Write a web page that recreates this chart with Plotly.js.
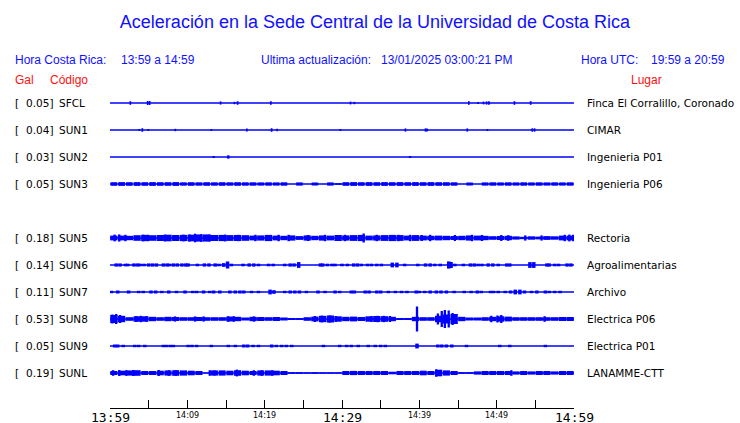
<!DOCTYPE html>
<html>
<head>
<meta charset="utf-8">
<script src="https://cdn.plot.ly/plotly-3.0.1.min.js"></script>
<style>html,body{margin:0;padding:0;background:#fff;}#chart{width:740px;height:423px;}</style>
</head>
<body>
<div id="chart"></div>
<script>
// ---------- DATA ----------
const stations = ['SFCL','SUN1','SUN2','SUN3','SUN5','SUN6','SUN7','SUN8','SUN9','SUNL'];
const pgaGal   = ['0.05','0.04','0.03','0.05','0.18','0.14','0.11','0.53','0.05','0.19'];
const places   = ['Finca El Corralillo, Coronado','CIMAR','Ingenieria P01','Ingenieria P06',
                  'Rectoria','Agroalimentarias','Archivo','Electrica P06','Electrica P01','LANAMME-CTT'];
const rowIndex = [0,1,2,3,5,6,7,8,9,10];
const tickMinutes = [0,5,10,15,20,25,30,35,40,45,50,55,60];
const tickLabels  = ['13:59','','14:09','','14:19','','14:29','','14:39','','14:49','','14:59'];
const bigTicks    = ['13:59','14:29','14:59'];

// continuous band half-amplitude per minute (relative units), minutes 0..59
const coreSUN3 = [1.8,1.9,1.8,1.9,1.8,1.9,1.8,1.8,1.9,
                  1.7,1.8,1.7,1.8,1.7,1.8,1.7,1.8,1.7,
                  1.7,1.6,1.7,1.6,1.7,
                  0,1.6,0,1.5,0,1.6,0.8,
                  1.8,1.9,1.8,1.9,1.8,1.9,1.8,1.9,1.8,1.9,1.8,1.9,1.8,1.8,1.7,
                  0,1.5,0,
                  1.6,1.7,1.6,1.7,1.6,1.7,1.6,1.7,1.6,1.7,1.6,1.7];
const coreSUN5 = [2.4,2.4,2.2,2.8,3.1,2.8,3.0,3.3,3.0,3.1,3.3,3.6,3.6,3.0,3.1,2.9,3.0,2.8,2.4,2.6,
                  3.1,2.4,2.2,2.6,1.9,2.6,2.2,2.6,2.4,3.0,2.6,2.9,3.1,2.4,2.6,2.9,3.1,2.9,2.4,2.9,
                  2.4,2.2,2.4,2.2,2.0,2.2,2.6,2.4,2.2,1.8,2.0,2.2,1.6,1.2,1.7,1.4,1.9,1.7,2.4,2.4];
const coreSUN8 = [4.0,3.2,1.8,2.7,2.7,2.2,1.8,2.2,2.0,1.8,1.8,2.0,1.8,1.8,1.8,2.4,2.2,1.5,2.2,2.0,
                  1.8,2.0,1.5,1.0,0.9,1.8,2.4,3.2,3.5,2.7,2.2,2.4,2.0,2.7,3.0,2.8,2.2,1.0,1.0,2.2,
                  1.8,1.8,3.2,4.5,5.0,2.2,1.5,1.5,1.8,2.2,2.7,2.4,1.8,1.8,1.8,1.8,1.8,1.8,2.0,2.0];
const coreSUNL = [2.0,2.3,2.6,2.8,2.0,2.0,2.3,2.6,2.8,2.6,2.3,2.0,0.4,2.6,2.6,2.3,2.8,2.3,2.0,2.6,
                  2.6,2.3,2.0,0.8,0.8,0.6,0.8,0.6,0.6,0.6,2.0,2.1,2.0,2.0,2.0,2.0,1.3,2.0,2.0,2.0,
                  2.3,2.0,3.2,2.6,2.0,0.8,0.8,1.6,2.0,2.0,2.0,2.0,1.6,2.0,1.6,2.0,2.0,1.6,2.0,2.0];

// isolated bursts: time (minutes after 13:59) and half amplitude (relative units)
const burstSFCL_t = [2.63,4.87,5.13,14.3,16.1,16.5,20.8,31.1,31.6,46.4,47.6,48.3,48.7,49.0,52.3,54.4];
const burstSFCL_a = [1.8,2.0,2.0,1.6,1.2,1.8,1.8,1.4,1.2,1.8,1.0,1.4,1.6,1.8,1.8,1.8];
const burstSUN1_t = [3.79,4.18,4.96,8.45,13.1,17.7,20.9,21.6,29.8,38.2,40.8,41.0,46.2,48.8,54.6,54.9];
const burstSUN1_a = [1.0,1.8,1.0,1.2,1.0,1.6,1.8,1.2,1.0,1.6,1.6,1.6,1.6,1.0,1.7,1.7];
const burstSUN2_t = [13.4,15.3,38.8];
const burstSUN2_a = [1.0,1.7,1.0];
const burstSUN3_t = [];
const burstSUN3_a = [];
const burstSUN5_t = [0.6,1.2,2.0,4.3,4.9,7.1,9.5,10.3,11.0,11.8,12.9,14.9,16.6,18.8,21.8,23.1,25.6,27.8,30.4,32.8,
                     34.5,37.3,38.8,40.3,41.4,44.6,46.8,48.1,50.6,51.5,53.7,55.8,58.8,59.4,59.9];
const burstSUN5_a = [3.4,3.6,3.2,3.4,3.2,3.4,3.4,3.6,4.3,3.8,3.4,3.4,3.2,3.2,3.2,3.2,3.0,3.2,3.2,4.5,
                     3.2,3.2,3.2,3.0,3.2,3.0,3.2,3.0,3.0,2.8,2.6,2.6,3.2,3.4,3.2];
const burstSUN6_t = [0.8,1.3,2.0,2.3,3.1,3.6,3.9,4.4,5.0,5.5,6.0,6.9,7.4,7.7,8.2,8.7,9.3,9.8,10.1,11.3,
                     12.2,12.8,13.6,14.1,14.7,15.2,15.7,17.2,18.0,18.6,19.2,20.5,21.1,22.6,23.3,23.8,24.4,
                     27.2,27.5,28.1,28.7,29.1,30.0,30.7,31.5,32.0,32.5,33.3,33.8,34.5,35.1,36.5,37.1,38.1,
                     39.8,40.8,41.4,42.0,42.7,43.8,44.1,44.6,45.7,46.6,47.1,47.6,48.1,48.9,49.5,50.2,51.3,
                     51.7,54.3,54.8,56.5,56.8,57.5,58.0,59.1,59.6];
const burstSUN6_a = [1.6,1.6,1.3,1.3,1.6,1.6,1.3,1.3,1.6,1.6,1.6,1.6,1.6,1.3,1.6,1.6,1.6,1.6,1.6,1.3,
                     1.6,1.6,1.6,1.3,1.9,3.5,1.3,1.3,1.6,1.6,1.3,1.3,1.3,1.3,1.6,1.6,2.9,
                     1.6,1.6,1.3,1.3,1.3,1.3,1.3,1.6,1.6,1.3,1.3,1.3,1.3,1.3,2.4,2.4,1.3,
                     1.3,1.6,1.6,1.3,1.3,3.6,3.0,1.3,1.3,1.6,1.6,1.3,1.3,1.6,1.6,1.3,1.6,
                     1.6,2.9,2.9,1.6,1.6,1.3,1.3,1.6,1.6];
const burstSUN7_t = [0.2,1.0,2.4,3.7,4.3,5.3,5.9,6.7,7.6,8.6,9.7,10.7,11.2,12.1,12.9,13.4,14.2,15.5,16.2,
                     16.8,17.3,18.3,19.2,20.7,21.2,22.6,23.3,23.9,24.5,25.4,26.9,27.8,29.1,29.7,31.2,31.6,
                     33.0,33.5,34.5,35.0,36.0,36.9,37.7,38.4,39.6,40.0,40.7,41.4,42.2,42.8,43.5,44.5,45.8,
                     46.7,47.5,48.0,49.2,49.6,50.2,51.1,51.8,52.4,53.0,53.6,54.5,55.2,56.3,56.8,57.5,58.2];
const burstSUN7_a = [1.2,1.5,1.5,1.2,1.2,1.5,1.5,1.2,1.5,1.2,1.5,1.2,1.2,1.5,1.2,1.5,1.5,1.5,1.5,
                     1.5,1.5,1.2,1.2,2.4,1.8,1.2,1.5,1.5,1.5,1.2,1.5,1.2,1.5,1.2,1.5,1.5,
                     1.5,1.5,1.5,1.5,1.2,1.2,1.2,1.2,1.5,1.2,1.2,1.5,1.5,1.5,1.5,1.2,1.2,
                     1.2,1.5,1.2,1.2,1.2,1.2,1.2,1.5,2.4,2.4,1.5,1.2,1.5,1.5,1.2,1.2,1.2];
const burstSUN8_t = [0.3,0.8,1.3,3.4,4.0,4.7,8.4,11.0,12.1,15.3,16.0,18.6,26.5,27.4,28.4,29.2,33.8,34.6,35.4,36.2,
                     39.7,42.4,42.9,43.3,43.8,44.3,49.3,50.1,50.6,56.2];
const burstSUN8_a = [4.5,5.0,4.0,3.0,3.2,2.8,2.6,2.6,2.6,2.8,2.8,2.6,3.0,3.4,3.6,3.0,3.0,3.2,3.2,3.0,
                     12.5,5.5,8.0,9.0,8.5,6.0,3.2,3.5,4.0,2.8];
const burstSUN9_t = [0.6,1.0,1.7,3.2,3.7,4.5,6.9,7.3,7.8,8.2,10.1,10.6,11.2,13.1,15.3,16.2,17.3,17.8,18.5,19.2,
                     20.9,21.5,22.2,22.8,23.5,27.6,29.7,30.6,31.2,32.1,33.4,34.3,35.0,35.6,39.7,42.4,42.9,
                     43.5,44.2,46.1,50.4,51.7,56.3];
const burstSUN9_a = [1.5,1.5,1.2,1.2,1.2,1.2,1.2,1.2,1.2,1.2,1.2,1.2,1.2,1.2,1.2,1.2,1.5,1.5,1.2,1.2,
                     1.5,1.2,1.2,1.2,1.2,1.2,1.2,1.2,1.2,1.2,1.2,1.2,1.2,1.2,2.4,1.5,1.5,
                     1.5,1.5,1.2,1.2,1.2,1.2];
const burstSUNL_t = [0.4,1.2,2.1,3.0,6.3,7.6,8.5,12.9,13.5,16.4,18.6,19.6,21.0,42.2,42.7,51.9];
const burstSUNL_a = [2.8,3.0,2.8,3.0,3.0,2.8,2.8,2.8,2.6,3.4,2.8,2.8,2.8,3.8,3.2,2.8];

// ---------- BUILD ----------
const cores  = [null,null,null,coreSUN3,coreSUN5,null,null,coreSUN8,null,coreSUNL];
const coreWidth = [1,1,1,0.85,0.95,1,1,0.95,1,0.92];
const bursts = [[burstSFCL_t,burstSFCL_a],[burstSUN1_t,burstSUN1_a],[burstSUN2_t,burstSUN2_a],[burstSUN3_t,burstSUN3_a],
                [burstSUN5_t,burstSUN5_a],[burstSUN6_t,burstSUN6_a],[burstSUN7_t,burstSUN7_a],[burstSUN8_t,burstSUN8_a],
                [burstSUN9_t,burstSUN9_a],[burstSUNL_t,burstSUNL_a]];
const burstWidth = [0.22,0.22,0.3,0.3,0.3,0.45,0.45,0.3,0.45,0.3];
const ampScale = 1/27;       // relative amplitude -> row units
const BLUE = '#0000ff';
const traces = [];

// baselines
const bx = [], by = [];
rowIndex.forEach(r => { bx.push(0, 60, null); by.push(r, r, null); });
traces.push({type:'scatter', mode:'lines', x:bx, y:by, line:{color:BLUE, width:1.6}, hoverinfo:'skip'});

stations.forEach((s, i) => {
  const r = rowIndex[i];
  const c = cores[i];
  if (c) {
    traces.push({type:'bar', x:c.map((_, m) => m + 0.5), y:c.map(a => 2*a*ampScale),
      base:c.map(a => r - a*ampScale), width:coreWidth[i], marker:{color:BLUE, line:{width:0}}, hoverinfo:'skip'});
  }
  const [bt, ba] = bursts[i];
  if (bt.length) {
    traces.push({type:'bar', x:bt, y:ba.map(a => 2*a*ampScale), base:ba.map(a => r - a*ampScale),
      width:burstWidth[i], marker:{color:BLUE, line:{width:0}}, hoverinfo:'skip'});
  }
});

// ---------- LAYOUT ----------
const PL = 110, PR = 574, PW = 464;
const PT = 90, PB = 408, PH = PB - PT;
const px = p => (p - PL) / PW;
const py = p => (PB - p) / PH;
const ann = [];
const blue = '#1010ff', red = '#ff1010';
const hdr = (text, x, y, color, size) => ann.push({xref:'paper', yref:'paper', x:px(x), y:y, xanchor:'left', yanchor:'middle',
   text:text, showarrow:false, font:{family:'Liberation Sans, Arial, sans-serif', size:size, color:color}});
hdr('Hora Costa Rica:', 12.5, py(60), blue, 12);
hdr('13:59 a 14:59', 118.5, py(60), blue, 12);
hdr('Ultima actualización:', 258.5, py(60), blue, 12);
hdr('13/01/2025 03:00:21 PM', 378.5, py(60), blue, 12);
hdr('Hora UTC:', 578.5, py(60), blue, 12);
hdr('19:59 a 20:59', 649, py(60), blue, 12);
hdr('Gal', 12.5, py(80.5), red, 12);
hdr('Código', 47.5, py(80.5), red, 12);
hdr('Lugar', 628.5, py(80.5), red, 12);

const lblFont = {family:'DejaVu Sans, sans-serif', size:10.5, color:'#000'};
stations.forEach((s, i) => {
  const r = rowIndex[i];
  ann.push({xref:'paper', yref:'y', x:px(13), y:r, xanchor:'left', yanchor:'middle', text:'[', showarrow:false, font:lblFont});
  ann.push({xref:'paper', yref:'y', x:px(55), y:r, xanchor:'right', yanchor:'middle', text:pgaGal[i] + ']', showarrow:false, font:lblFont});
  ann.push({xref:'paper', yref:'y', x:px(56.5), y:r, xanchor:'left', yanchor:'middle', text:s, showarrow:false, font:lblFont});
  ann.push({xref:'paper', yref:'y', x:px(585), y:r, xanchor:'left', yanchor:'middle', text:places[i], showarrow:false, font:lblFont});
});

tickMinutes.forEach((m, i) => {
  const t = tickLabels[i];
  if (!t) return;
  const big = bigTicks.includes(t);
  ann.push({xref:'x', yref:'paper', x:m, y:0, xanchor:'center', yanchor:'top', yshift: big ? -1 : 0,
    height: big ? 13 : 10, text:t, showarrow:false,
    font: big ? {family:'DejaVu Sans Mono, monospace', size:13, color:'#000'}
              : {family:'DejaVu Sans, sans-serif', size:8, color:'#000'}});
});

const yTop = (PT - 103) / 27, yBot = (PB - 103) / 27;
const layout = {
  width:740, height:423,
  margin:{l:PL, r:740-PR, t:PT, b:423-PB, pad:0},
  paper_bgcolor:'#fff', plot_bgcolor:'#fff',
  showlegend:false, barmode:'overlay', hovermode:false,
  title:{text:'Aceleración en la Sede Central de la Universidad de Costa Rica',
         font:{family:'Liberation Sans, Arial, sans-serif', size:18, color:'#1010ff'},
         xref:'container', x:375/740, xanchor:'center', yref:'container', y:1 - 22/423, yanchor:'middle'},
  xaxis:{range:[0,60], showgrid:false, zeroline:false, showline:true, linecolor:'#000', linewidth:1,
         ticks:'inside', ticklen:8, tickcolor:'#000', tickwidth:1, tickvals:tickMinutes, ticktext:tickLabels,
         showticklabels:false, fixedrange:true},
  yaxis:{range:[yBot, yTop], showgrid:false, zeroline:false, showline:false, showticklabels:false, ticks:'', fixedrange:true},
  annotations:ann
};
Plotly.newPlot('chart', traces, layout, {staticPlot:true, displayModeBar:false});
</script>
</body>
</html>
